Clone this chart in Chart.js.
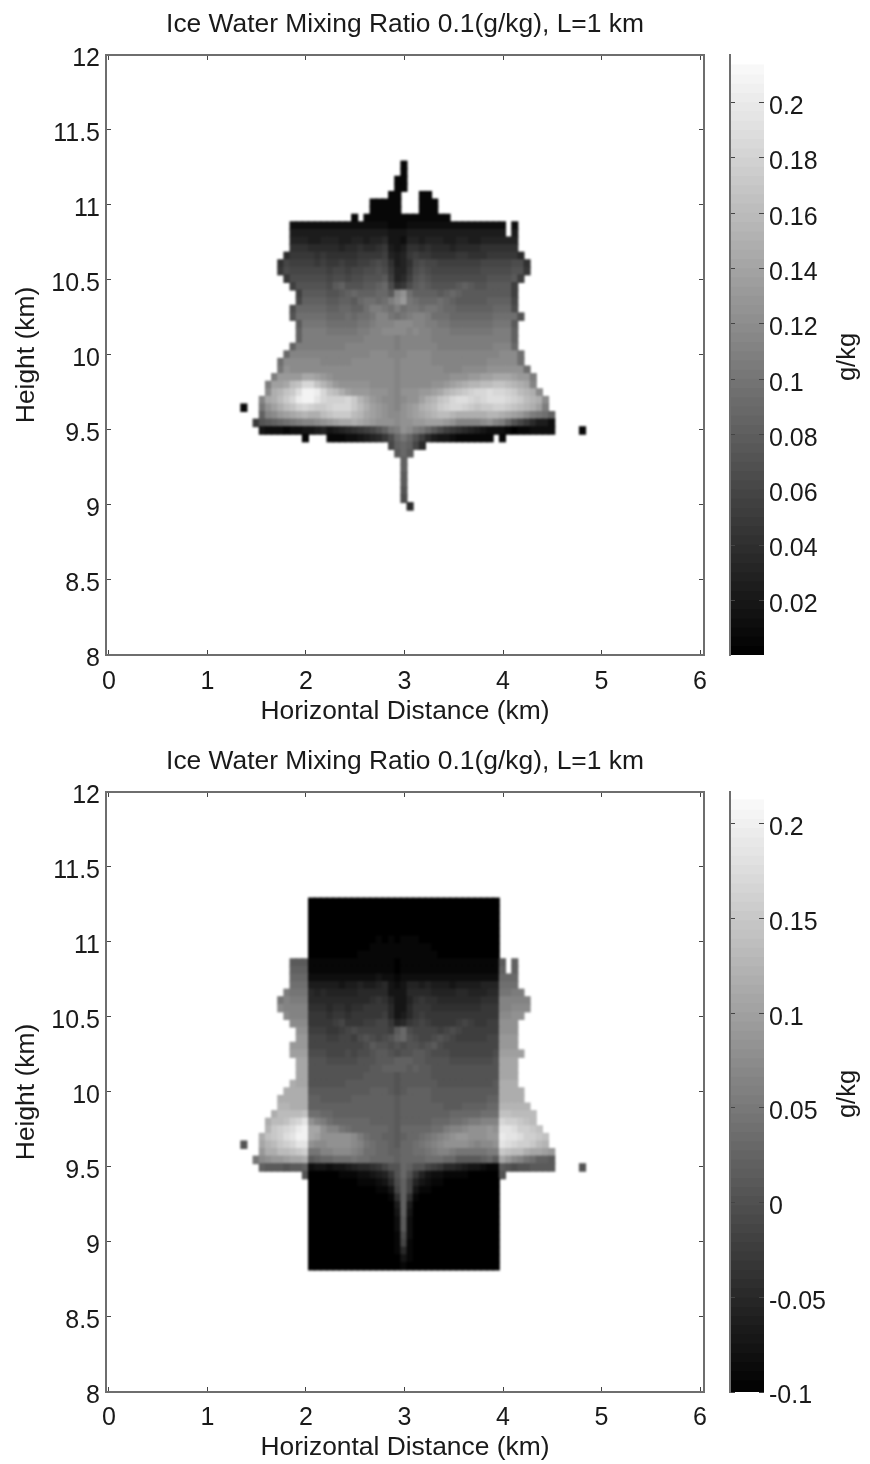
<!DOCTYPE html>
<html>
<head>
<meta charset="utf-8">
<title>Ice Water Mixing Ratio</title>
<script src="https://cdn.jsdelivr.net/npm/chart.js@4"></script>
<style>
  html, body { margin: 0; padding: 0; background: #fff; overflow: hidden; }
  canvas { position: absolute; filter: blur(0.4px); }
  canvas.cells { filter: blur(0.9px); }
</style>
</head>
<body>
<canvas id="iceCells" class="cells" width="720" height="735" style="left:0;top:0"></canvas>
<canvas id="icePlot" width="720" height="735" style="left:0;top:0"></canvas>
<canvas id="iceBar" width="150" height="735" style="left:720px;top:0"></canvas>
<canvas id="diffCells" class="cells" width="720" height="727" style="left:0;top:737px"></canvas>
<canvas id="diffPlot" width="720" height="727" style="left:0;top:737px"></canvas>
<canvas id="diffBar" width="150" height="727" style="left:720px;top:737px"></canvas>
<script>
const titleText = 'Ice Water Mixing Ratio 0.1(g/kg), L=1 km';
const xTitle = 'Horizontal Distance (km)';
const yTitle = 'Height (km)';
const barTitle = 'g/kg';
const xTicks = [0, 1, 2, 3, 4, 5, 6];
const yTicks = [8, 8.5, 9, 9.5, 10, 10.5, 11, 11.5, 12];
const iceTicks = [0.02, 0.04, 0.06, 0.08, 0.1, 0.12, 0.14, 0.16, 0.18, 0.2];
const diffTicks = [-0.1, -0.05, 0, 0.05, 0.1, 0.15, 0.2];

// grid of the cells, km
const cellLeft = 1.338;
const cellWidth = 0.0625;
const cellTop = 11.293;
const cellHeight = 0.0506;

// colorbar level edges, g/kg
const iceEdges = [0.0003, 0.0036, 0.007, 0.0103, 0.0136, 0.017, 0.0203, 0.0236, 0.027, 0.0303, 0.0336, 0.037, 0.0403, 0.0436, 0.047, 0.0503, 0.0536, 0.057, 0.0603, 0.0636, 0.067, 0.0703, 0.0736, 0.077, 0.0803, 0.0836, 0.087, 0.0903, 0.0936, 0.097, 0.1003, 0.1036, 0.107, 0.1103, 0.1136, 0.117, 0.1203, 0.1236, 0.127, 0.1303, 0.1336, 0.137, 0.1403, 0.1436, 0.147, 0.1503, 0.1536, 0.157, 0.1603, 0.1636, 0.167, 0.1703, 0.1736, 0.177, 0.1803, 0.1836, 0.187, 0.1903, 0.1936, 0.197, 0.2003, 0.2036, 0.207, 0.2103, 0.2136];
const diffEdges = [-0.1, -0.0936, -0.0888, -0.0839, -0.0791, -0.0742, -0.0693, -0.0645, -0.0596, -0.0548, -0.0499, -0.045, -0.0402, -0.0353, -0.0305, -0.0256, -0.0207, -0.0159, -0.011, -0.0062, -0.0013, 0.0036, 0.0084, 0.0133, 0.0181, 0.023, 0.0279, 0.0327, 0.0376, 0.0424, 0.0473, 0.0522, 0.057, 0.0619, 0.0667, 0.0716, 0.0765, 0.0813, 0.0862, 0.091, 0.0959, 0.1008, 0.1056, 0.1105, 0.1153, 0.1202, 0.1251, 0.1299, 0.1348, 0.1396, 0.1445, 0.1494, 0.1542, 0.1591, 0.1639, 0.1688, 0.1737, 0.1785, 0.1834, 0.1882, 0.1931, 0.198, 0.2028, 0.2077, 0.2126];

// one string per height row, top row first. '.' = no data, else a base 36 level
// counted from the bottom of the colorbar. Blocks of 7 columns.
const iceRows = [
  '....... ....... ....... .....1. ....... ....... ....... .......',
  '....... ....... ....... .....1. ....... ....... ....... .......',
  '....... ....... ....... ....11. ....... ....... ....... .......',
  '....... ....... ....... ....11. ....... ....... ....... .......',
  '....... ....... ....... ...11.. .11.... ....... ....... .......',
  '....... ....... ....... 11111.. .111... ....... ....... .......',
  '....... ....... ....... 11111.. .111... ....... ....... .......',
  '....... ....... ....1.1 1111111 111111. ....... ....... .......',
  '....... .222222 2222222 2221112 2222222 2222222 2.2.... .......',
  '....... .444444 4444444 4443334 4444444 4444444 4.4.... .......',
  '....... .555445 5544554 5563325 5455544 5544555 555.... .......',
  '....... .777666 6656676 6784347 7676665 6666777 777.... .......',
  '....... 6888878 7777788 8895458 9887777 8877788 8886... .......',
  '......7 a999989 8898899 aba7457 abaa999 9999aaa aabb7.. .......',
  '......8 baaaaaa 9aa9aab bcb8558 bcbaaaa aaaabbb bbcc8.. .......',
  '....... 8bbbbbb abbabbc ccd9569 cdcbbbb bbbbbcc ccd9... .......',
  '....... .9ccccc bdecccd defb78b dedcccc dedccdd dd9.... .......',
  '....... ..9dddd ccdefee effdjlg eeeedef edddddd dd9.... .......',
  '....... ..aeeee ddeedfg gfgikmh gfffgfe dddddee eea.... .......',
  '....... .bfffff eeffeeg iihgigh hghhgff eeeeeef ffb.... .......',
  '....... .cggggg fffgfgg hjjhghi jjigggf ffffffg gggc... .......',
  '....... ..dhhhh ggggghh ijjjkkk jjiihhg ggggggh hhd.... .......',
  '....... ..eiiii hhhhhii jjkkkkj kjjiiih hhhhhhi iie.... .......',
  '....... ..eiiii iiiiiij jjjjijj jjjiiii iiiiiii iie.... .......',
  '....... .eiiiii iiijjjj jjjjijj jjjjiii iiiiiij jjf.... .......',
  '....... fjjjjjj jjjjjjj kkkjjjk kkkjjjj jjjjjjj kkkg... .......',
  '......g kkkkkkj jjjjkkk kkkkjkk kkkjjjj jjjjjkk kkkg... .......',
  '......h lkkkkkk kkkkkkk kkkkjkk kkkkkjj jkkkkll llllg.. .......',
  '.....im mmmoonm lkkkkkk kkkkjkk kkkkkkl llmmnno oonmmi. .......',
  '....inn orsvvsq omlllll kkkkjkk kkkllmn opqqrrs srqpoj. .......',
  '....kpq stwzzyv srpnmmm lllkjll lmmnoqr stuvvwv vutrqpk .......',
  '...jopr tvyzzxv uuuvtqo mlkkjkl lnpqstv wwvuvww wvutrqp k......',
  '1..hlnp rsuvutt uvvvtrp nmlkjlm npqrtuv vutsttu utsrqpn i......',
  '...ejkm nopqppr stttrqo nmlkklm nopqrrq pppppqq ponmkih ge.....',
  '..8cdef ghijjkl mnoopon mlllkll mmnnnml jjjjklj ifca864 42.....',
  '...3222 1223345 3456789 acehilk ihfdb98 7654322 2101122 22....1',
  '....... ...1... 1112234 568bfhf c964332 111111. 1...... .......',
  '....... ....... ....... ...aefe a6..... ....... ....... .......',
  '....... ....... ....... ....dfd ....... ....... ....... .......',
  '....... ....... ....... .....e. ....... ....... ....... .......',
  '....... ....... ....... .....e. ....... ....... ....... .......',
  '....... ....... ....... .....d. ....... ....... ....... .......',
  '....... ....... ....... .....d. ....... ....... ....... .......',
  '....... ....... ....... .....c. ....... ....... ....... .......',
  '....... ....... ....... .....b. ....... ....... ....... .......',
  '....... ....... ....... ......6 ....... ....... ....... .......'
];

const diffRows = [
  '....... ....000 0000000 0000000 0000000 0000000 ....... .......',
  '....... ....000 0000000 0000000 0000000 0000000 ....... .......',
  '....... ....000 0000000 0000000 0000000 0000000 ....... .......',
  '....... ....000 0000000 0000000 0000000 0000000 ....... .......',
  '....... ....000 0000000 0000000 0000000 0000000 ....... .......',
  '....... ....000 0000000 0101011 1000000 0000000 ....... .......',
  '....... ....000 0000000 1111111 1110000 0000000 ....... .......',
  '....... ....000 0000011 1111111 1111000 0000000 ....... .......',
  '....... .ddd111 1111111 1111011 1111111 1111111 d.e.... .......',
  '....... .eee111 1111111 1111011 1111111 1111111 e.e.... .......',
  '....... .fff222 2222222 2322122 2222222 2222222 fff.... .......',
  '....... .ggg444 4434454 4563235 5454443 4444555 ggg.... .......',
  '....... ihhh656 5555566 6663336 6665555 6655566 hhii... .......',
  '......h jiii666 6666666 7875335 7877666 6666777 jjjjj.. .......',
  '......k jjjj777 6776778 8886336 8887777 7777888 jjkkk.. .......',
  '....... kjjj888 7887888 8896346 8988888 8888888 kkll... .......',
  '....... .kkk888 89a8889 9aa8568 9a98888 9a98899 lll.... .......',
  '....... ..ll999 889abaa aaa9dfb aaaa9ab a999999 lll.... .......',
  '....... ..mmaaa 99aa9bc babcefc baabcba 99999aa mmm.... .......',
  '....... .mmmaaa aaaaaab dccbcbc cbcdbaa aaaaaaa mmm.... .......',
  '....... .nnnbbb aaababb cddcbcc ddcbbba aaaaaab nnnn... .......',
  '....... ..ooccc bbbbbcc cdddeee ddccccb bbbbbbc ooo.... .......',
  '....... ..ooccc ccccccc ddeeeed eddcccc ccccccc ooo.... .......',
  '....... ..ooccc ccccccd ddddcdd dddcccc ccccccc ooo.... .......',
  '....... .pooccc cccdddd ddddcdd ddddccc ccccccd ppp.... .......',
  '....... ppppddd ddddddd eeedcde eeedddd ddddddd pppp... .......',
  '......p ppppeed ddddeee eeeedee eeedddd dddddee pppp... .......',
  '......q qpppeee eeeeeee eeeedee eeeeedd deeeeff qqqqq.. .......',
  '.....pr rrrsggf feeeeee eeeedee eeeeeef ffffggg ssrrrr. .......',
  '....prr suvxlji gffffff eeeedee eeefffg ghiijjj vuutsr. .......',
  '....qtu vwyzool jjhgfff fffedff fffggij jklllml xxwuuts .......',
  '...pstu wxzzonl llllkig ffeedef fghijkl mmlllmm yxxwuut s......',
  'c..oqrt uvxxlkk llllkjh gffedff ghijkll llkjkkl xwvuutr q......',
  '...mppr rstuhhj jkkkjig gffeeff gghijji hhhhhii tsrrpoo nm.....',
  '..hklmm noopdef fggghgg ffffeff ffgggff ddddefd omkjhge ed.....',
  '...eddd cdde233 2334566 78accfe cca9866 5433211 dcbccdd dd....c',
  '....... ...c000 0011122 3458cfc 8532211 1100000 c...... .......',
  '....... ....000 0000011 1236bea 5321100 0000000 ....... .......',
  '....... ....000 0000000 0113aea 3110000 0000000 ....... .......',
  '....... ....000 0000000 00017e7 1000000 0000000 ....... .......',
  '....... ....000 0000000 00004e4 0000000 0000000 ....... .......',
  '....... ....000 0000000 00003e3 0000000 0000000 ....... .......',
  '....... ....000 0000000 00002d2 0000000 0000000 ....... .......',
  '....... ....000 0000000 00002d2 0000000 0000000 ....... .......',
  '....... ....000 0000000 00001b2 0000000 0000000 ....... .......',
  '....... ....000 0000000 00001a1 0000000 0000000 ....... .......',
  '....... ....000 0000000 0000161 0000000 0000000 ....... .......',
  '....... ....000 0000000 0000031 0000000 0000000 ....... .......',
  '....... ....000 0000000 0000010 0000000 0000000 ....... .......'
];

const textFont = 'Liberation Sans, Arial, sans-serif';
const axisGray = '#6e6e6e';
const tickGray = '#444';
const textColor = '#1a1a1a';
const xMin = -0.03, xMax = 6.04, yMin = 8, yMax = 12;

function grayFor(value, edges) {
  const lo = edges[0], hi = edges[edges.length - 1];
  const g = Math.max(0, Math.round(250 * (value - lo) / (hi - lo)));
  return 'rgb(' + g + ',' + g + ',' + g + ')';
}

function fixedTicks(list) {
  return function (scale) { scale.ticks = list.map(v => ({ value: v })); };
}

function frameAxis(min, max, list, size, isHorizontal) {
  return {
    type: 'linear', min: min, max: max, offset: false,
    grid: { offset: false, drawOnChartArea: false, drawTicks: true, tickLength: -5, tickColor: tickGray, tickWidth: 1 },
    border: { display: true, color: axisGray, width: 2 },
    ticks: { display: false, autoSkip: false, maxRotation: 0 },
    afterBuildTicks: fixedTicks(list),
    afterFit: function (scale) {
      // label overhang must not shrink the plot area
      scale.paddingLeft = scale.paddingRight = scale.paddingTop = scale.paddingBottom = 0;
      if (isHorizontal) scale.height = size; else scale.width = size;
    }
  };
}

function labelledAxis(axis, padding, offset, title, titlePadding, titleSize) {
  axis.ticks = {
    display: true, autoSkip: false, maxRotation: 0, minRotation: 0, padding: padding, labelOffset: offset,
    color: textColor, font: { family: textFont, size: 25 },
    callback: v => String(v)
  };
  axis.title = { display: true, text: title, color: textColor, font: { family: textFont, size: titleSize, lineHeight: 1.2 }, padding: titlePadding };
  return axis;
}

// cells of one panel as floating bars on a linear x axis, under the frame chart
function cellChart(id, rows, edges, levelStep, bottomHeight) {
  const cells = [];
  const colours = [];
  rows.forEach((row, r) => {
    row.replace(/ /g, '').split('').forEach((ch, c) => {
      if (ch === '.') return;
      const value = edges[0] + parseInt(ch, 36) * levelStep;
      cells.push({
        x: cellLeft + (c + 0.5) * cellWidth,
        y: [cellTop - (r + 1) * cellHeight, cellTop - r * cellHeight]
      });
      colours.push(grayFor(value, edges));
    });
  });
  return new Chart(document.getElementById(id), {
    type: 'bar',
    data: {
      datasets: [{
        data: cells,
        backgroundColor: colours,
        barPercentage: 1,
        categoryPercentage: 1,
        inflateAmount: 0.5,
        borderWidth: 0
      }]
    },
    options: {
      responsive: false,
      animation: false,
      events: [],
      layout: { padding: { left: 106, right: 16, top: 55, bottom: bottomHeight } },
      plugins: { legend: { display: false }, tooltip: { enabled: false } },
      scales: {
        x: { type: 'linear', min: xMin, max: xMax, display: false, offset: false },
        y: { type: 'linear', min: yMin, max: yMax, display: false }
      }
    }
  });
}

// axes, ticks and texts of one panel
function frameChart(id, bottomHeight, tickPadding, titleBottom) {
  const x = labelledAxis(frameAxis(xMin, xMax, xTicks, bottomHeight, true), tickPadding, 0, xTitle, { top: 0, bottom: titleBottom }, 26.4);
  const y = labelledAxis(frameAxis(yMin, yMax, yTicks, 106, false), 11, 4, yTitle, { top: 11, bottom: 0 }, 26.4);
  return new Chart(document.getElementById(id), {
    type: 'bar',
    data: { datasets: [] },
    options: {
      responsive: false,
      animation: false,
      events: [],
      layout: { padding: 0 },
      plugins: {
        legend: { display: false },
        tooltip: { enabled: false },
        title: {
          display: true, text: titleText, fullSize: false, color: textColor,
          font: { family: textFont, size: 26.4, weight: 'normal', lineHeight: 1.2 },
          padding: { top: 8.5, bottom: 14.8 }
        }
      },
      scales: {
        x: x,
        y: y,
        x2: Object.assign(frameAxis(xMin, xMax, xTicks, 0, true), { position: 'top' }),
        y2: Object.assign(frameAxis(yMin, yMax, yTicks, 16, false), { position: 'right' })
      }
    }
  });
}

// rotated unit label next to the colorbar
const unitLabel = {
  id: 'unitLabel',
  afterDraw(chart) {
    const ctx = chart.ctx;
    ctx.save();
    ctx.translate(128, 357);
    ctx.rotate(-Math.PI / 2);
    ctx.textAlign = 'center';
    ctx.textBaseline = 'middle';
    ctx.fillStyle = textColor;
    ctx.font = '25.5px ' + textFont;
    ctx.fillText(barTitle, 0, 0);
    ctx.restore();
  }
};

function colorbar(id, edges, tickList, min, max, bottomPad) {
  const cells = [];
  const colours = [];
  for (let i = 0; i < edges.length - 1; i++) {
    cells.push({ x: 0, y: [edges[i], edges[i + 1]] });
    colours.push(grayFor((edges[i] + edges[i + 1]) / 2, edges));
  }
  const left = frameAxis(min, max, tickList, 10, false);
  left.grid.z = 1;
  left.border.z = 2;
  const right = frameAxis(min, max, tickList, 106, false);
  right.position = 'right';
  right.grid.z = 1;
  right.border = { display: false };
  right.ticks = {
    display: true, autoSkip: false, maxRotation: 0, minRotation: 0, padding: 10, labelOffset: 4.5,
    color: textColor, font: { family: textFont, size: 25 },
    callback: v => String(v)
  };
  return new Chart(document.getElementById(id), {
    type: 'bar',
    data: {
      datasets: [{
        data: cells,
        backgroundColor: colours,
        barPercentage: 1,
        categoryPercentage: 1,
        inflateAmount: 0.5,
        borderWidth: 0,
        xAxisID: 'x',
        yAxisID: 'y'
      }]
    },
    options: {
      responsive: false,
      animation: false,
      events: [],
      layout: { padding: { top: 55, bottom: bottomPad } },
      plugins: { legend: { display: false }, tooltip: { enabled: false } },
      scales: {
        x: { type: 'linear', min: -0.5, max: 0.5, display: false, offset: false },
        y: left,
        y2: right
      }
    },
    plugins: [unitLabel]
  });
}

cellChart('iceCells', iceRows, iceEdges, 0.00593, 80);
frameChart('icePlot', 80, 17, 7);
colorbar('iceBar', iceEdges, iceTicks, 0.00025, 0.2172, 80);
cellChart('diffCells', diffRows, diffEdges, 0.00864, 72);
frameChart('diffPlot', 72, 16, 0);
colorbar('diffBar', diffEdges, diffTicks, -0.1, 0.2168, 72);
</script>
</body>
</html>
